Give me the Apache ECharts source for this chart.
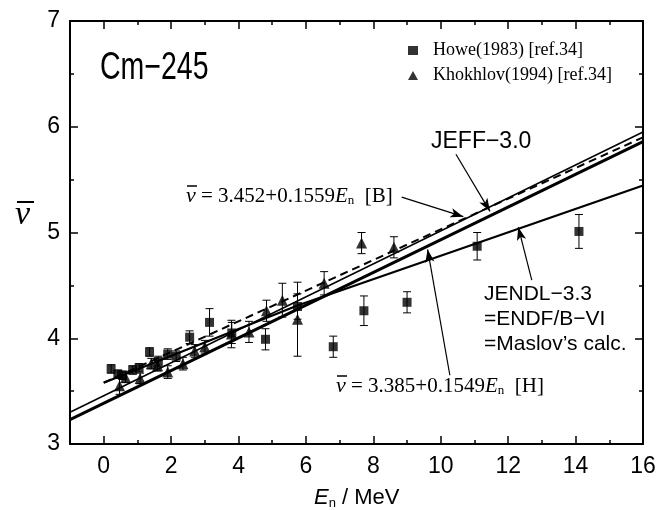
<!DOCTYPE html>
<html><head><meta charset="utf-8">
<script src="https://cdn.jsdelivr.net/npm/echarts@6/dist/echarts.min.js"></script>
<style>html,body{margin:0;padding:0;background:#fff}#c{width:662px;height:510px}</style>
</head><body><div id="c"></div>
<script>
// ---- data ----
const howeE   = [0.22, 0.42, 0.56, 0.86, 1.05, 1.36, 1.62, 1.90, 2.15, 2.55, 3.14, 3.80, 4.80, 5.75, 6.81, 7.72, 9.00, 11.08, 14.10];
const howeNu  = [3.71, 3.66, 3.65, 3.70, 3.72, 3.87, 3.78, 3.85, 3.83, 4.01, 4.15, 4.05, 3.99, 4.30, 3.92, 4.26, 4.34, 4.87, 5.01];
const howeErr = [0.04, 0.04, 0.04, 0.04, 0.04, 0.04, 0.05, 0.05, 0.05, 0.06, 0.13, 0.10, 0.10, 0.12, 0.10, 0.14, 0.10, 0.13, 0.16];

const khoE   = [0.47, 0.65, 1.08, 1.41, 1.60, 1.90, 2.35, 2.70, 3.00, 3.79, 4.31, 4.83, 5.30, 5.75, 6.54, 7.65, 8.61];
const khoNu  = [3.55, 3.63, 3.62, 3.76, 3.74, 3.68, 3.76, 3.88, 3.92, 4.04, 4.06, 4.26, 4.36, 4.18, 4.52, 4.90, 4.86];
const khoErr = [0.08, 0.05, 0.05, 0.05, 0.05, 0.06, 0.06, 0.06, 0.06, 0.13, 0.10, 0.10, 0.16, 0.35, 0.11, 0.10, 0.10];

// curves (endpoints / knots)
const fitB_E  = [-1, 16];  const fitB_Nu  = [3.30, 5.95];
const fitH_E  = [-1, 16];  const fitH_Nu  = [3.23, 5.86];
const jeffE   = [0, 16];   const jeffNu   = [3.58, 5.90];
const jendlE  = [0, 5.75, 16]; const jendlNu = [3.58, 4.31, 5.445];

const xTicks = [0, 2, 4, 6, 8, 10, 12, 14, 16];
const xMinor = [1, 3, 5, 7, 9, 11, 13, 15];

const zip = (a, b, c) => a.map((v, i) => c ? [v, b[i], c[i]] : [v, b[i]]);

const SANS = "'Liberation Sans',Arial,sans-serif";
const SERIF = "'Liberation Serif','Times New Roman',serif";

function errRender(params, api) {
  const x = api.value(0), y = api.value(1), e = api.value(2);
  const t = api.coord([x, y + e]), b = api.coord([x, y - e]);
  const hw = 4, st = {stroke: '#000', lineWidth: 1};
  return {type: 'group', children: [
    {type: 'line', shape: {x1: t[0], y1: t[1], x2: b[0], y2: b[1]}, style: st},
    {type: 'line', shape: {x1: t[0] - hw, y1: t[1], x2: t[0] + hw, y2: t[1]}, style: st},
    {type: 'line', shape: {x1: b[0] - hw, y1: b[1], x2: b[0] + hw, y2: b[1]}, style: st}
  ]};
}

const chart = echarts.init(document.getElementById('c'), null, {renderer: 'canvas'});
const axLine = {show: true, onZero: false, lineStyle: {color: '#000', width: 2}};
const noLine = {show: false, onZero: false};
const baseX = {type: 'value', min: -1, max: 16, splitLine: {show: false}};
const baseY = {type: 'value', min: 3, max: 7, interval: 1, splitLine: {show: false}};
const tickSt = {color: '#000', width: 1.5};

const arrow = (a, b) => [{coord: a}, {coord: b}];

chart.setOption({
  animation: false,
  grid: {left: 70, top: 21, right: 19, bottom: 66, containLabel: false},
  legend: {
    show: true, orient: 'vertical', left: 403, top: 36, itemGap: 6,
    itemWidth: 10, itemHeight: 9,
    textStyle: {fontFamily: SERIF, fontSize: 18, color: '#000', lineHeight: 19, padding: [0, 0, 0, 10]},
    data: [{name: 'Howe(1983) [ref.34]', icon: 'rect', itemStyle: {color: '#000'}},
           {name: 'Khokhlov(1994) [ref.34]', icon: 'triangle', itemStyle: {color: '#000'}}]
  },
  xAxis: [
    Object.assign({}, baseX, {position: 'bottom', axisLine: axLine,
      axisTick: {show: true, inside: true, length: 8, customValues: xTicks, lineStyle: tickSt},
      axisLabel: {show: true, customValues: xTicks, margin: 11, fontFamily: SANS, fontSize: 23, color: '#000'}}),
    Object.assign({}, baseX, {position: 'bottom', axisLine: noLine,
      axisTick: {show: true, inside: true, length: 4, customValues: xMinor, lineStyle: tickSt},
      axisLabel: {show: false}}),
    Object.assign({}, baseX, {position: 'top', axisLine: axLine,
      axisTick: {show: true, inside: true, length: 8, customValues: xTicks, lineStyle: tickSt},
      axisLabel: {show: false}}),
    Object.assign({}, baseX, {position: 'top', axisLine: noLine,
      axisTick: {show: true, inside: true, length: 4, customValues: xMinor, lineStyle: tickSt},
      axisLabel: {show: false}})
  ],
  yAxis: [
    Object.assign({}, baseY, {position: 'left', axisLine: axLine,
      axisTick: {show: true, inside: true, length: 8, lineStyle: tickSt},
      minorTick: {show: true, splitNumber: 2, length: 4, lineStyle: tickSt},
      axisLabel: {show: true, margin: 10, fontFamily: SANS, fontSize: 23, color: '#000'}}),
    Object.assign({}, baseY, {position: 'right', axisLine: axLine,
      axisTick: {show: true, inside: true, length: 8, lineStyle: tickSt},
      minorTick: {show: true, splitNumber: 2, length: 4, lineStyle: tickSt},
      axisLabel: {show: false}})
  ],
  series: [
    {name: 'B', type: 'line', data: zip(fitB_E, fitB_Nu), symbol: 'none', lineStyle: {color: '#000', width: 1.5}, z: 3,
     markLine: {silent: true, symbol: ['none', 'arrow'], symbolSize: [7, 13], label: {show: false},
       lineStyle: {color: '#000', width: 1.2, type: 'solid'},
       data: [arrow([8.84, 5.335], [10.67, 5.15]),
              arrow([10.45, 5.74], [11.46, 5.20]),
              arrow([10.27, 3.65], [9.61, 4.84]),
              arrow([12.70, 4.55], [12.30, 5.05])]}},
    {name: 'H', type: 'line', data: zip(fitH_E, fitH_Nu), symbol: 'none', lineStyle: {color: '#000', width: 3}, z: 3},
    {name: 'JEFF-3.0', type: 'line', data: zip(jeffE, jeffNu), symbol: 'none', lineStyle: {color: '#000', width: 2, type: [8, 5]}, z: 3},
    {name: 'JENDL-3.3', type: 'line', data: zip(jendlE, jendlNu), symbol: 'none', lineStyle: {color: '#000', width: 2.2}, z: 3},
    {name: 'errH', type: 'custom', renderItem: errRender, data: zip(howeE, howeNu, howeErr), z: 4},
    {name: 'errK', type: 'custom', renderItem: errRender, data: zip(khoE, khoNu, khoErr), z: 4},
    {name: 'Howe(1983) [ref.34]', type: 'scatter', data: zip(howeE, howeNu), symbol: 'rect', symbolSize: 9, itemStyle: {color: '#000'}, z: 5},
    {name: 'Khokhlov(1994) [ref.34]', type: 'scatter', data: zip(khoE, khoNu), symbol: 'triangle', symbolSize: [11, 11], itemStyle: {color: '#000'}, z: 5}
  ],
  graphic: [
    {type: 'text', x: 100, y: 50, scaleX: 0.75, style: {text: 'Cm\u2212245', font: "38px " + SANS, fill: '#000'}},
    {type: 'text', x: 431, y: 130, style: {text: 'JEFF\u22123.0', font: "23px " + SANS, fill: '#000'}},
    {type: 'text', x: 484, y: 282, style: {text: 'JENDL\u22123.3\n=ENDF/B\u2212VI\n=Maslov\u2019s calc.', font: "21px " + SANS, fill: '#000', lineHeight: 25}},
    // formula B
    {type: 'text', left: 186, top: 185, style: {
      text: '{v|\u03bd} = 3.452+0.1559{e|E}{s|n}  [B]',
      font: "21px " + SERIF, fill: '#000',
      rich: {v: {fontFamily: SERIF, fontStyle: 'italic', fontSize: 22}, e: {fontFamily: SERIF, fontStyle: 'italic', fontSize: 21},
             s: {fontFamily: SERIF, fontSize: 13, padding: [9, 0, 0, 0]}}}},
    {type: 'line', shape: {x1: 187, y1: 186, x2: 197, y2: 186}, style: {stroke: '#000', lineWidth: 1.5}},
    // formula H
    {type: 'text', left: 336, top: 375, style: {
      text: '{v|\u03bd} = 3.385+0.1549{e|E}{s|n}  [H]',
      font: "21px " + SERIF, fill: '#000',
      rich: {v: {fontFamily: SERIF, fontStyle: 'italic', fontSize: 22}, e: {fontFamily: SERIF, fontStyle: 'italic', fontSize: 21},
             s: {fontFamily: SERIF, fontSize: 13, padding: [9, 0, 0, 0]}}}},
    {type: 'line', shape: {x1: 337, y1: 376, x2: 347, y2: 376}, style: {stroke: '#000', lineWidth: 1.5}},
    // y axis title
    {type: 'text', left: 15, top: 198, style: {text: '\u03bd', font: "italic 34px " + SERIF, fill: '#000'}},
    {type: 'line', shape: {x1: 17, y1: 202, x2: 34, y2: 202}, style: {stroke: '#000', lineWidth: 2}},
    // x axis title
    {type: 'text', left: 314, top: 487, style: {
      text: '{e|E}{s|n} / MeV', font: "22px " + SANS, fill: '#000',
      rich: {e: {fontFamily: SANS, fontStyle: 'italic', fontSize: 22}, s: {fontFamily: SANS, fontSize: 13, padding: [10, 0, 0, 0]}}}}
  ]
});
</script></body></html>
